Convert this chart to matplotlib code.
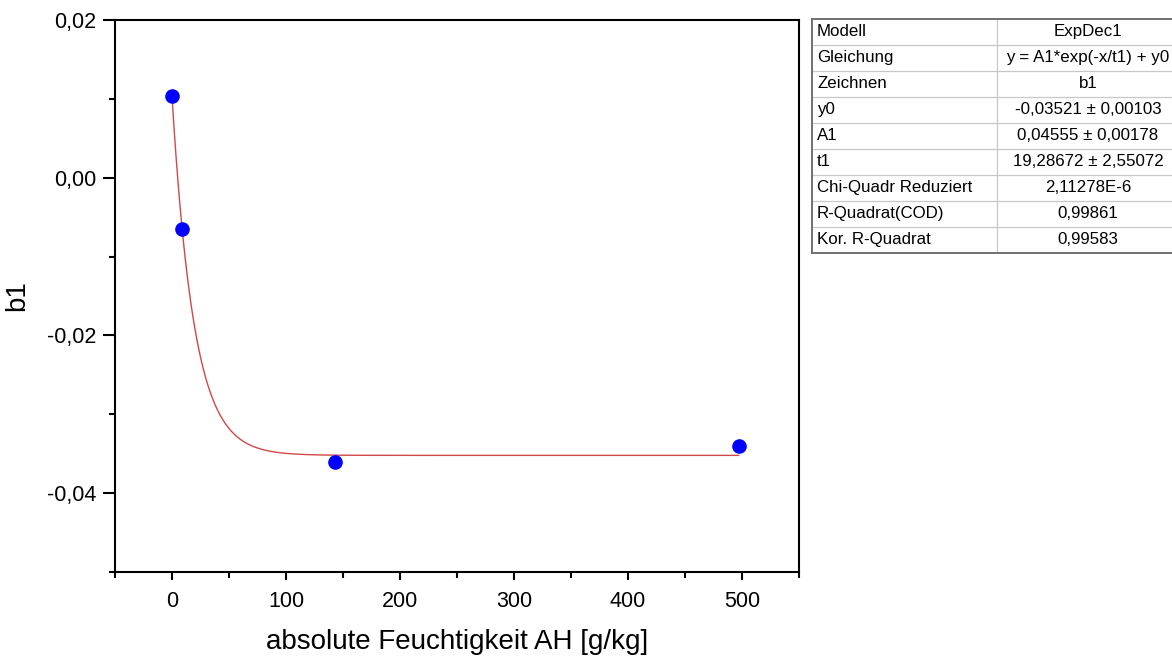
import numpy as np
import matplotlib
matplotlib.use("Agg")
import matplotlib.pyplot as plt
from matplotlib.ticker import MultipleLocator, FuncFormatter

plt.rcParams['font.family'] = ['Liberation Sans', 'DejaVu Sans']

# Measured data
humidity = [0.0, 8.5, 143.0, 497.0]
b1_values = [0.0103, -0.00655, -0.0361, -0.0340]

# ExpDec1 fit parameters
y0 = -0.03521
A1 = 0.04555
t1 = 19.28672

table_labels = ["Modell", "Gleichung", "Zeichnen", "y0", "A1", "t1",
                "Chi-Quadr Reduziert", "R-Quadrat(COD)", "Kor. R-Quadrat"]
table_values = ["ExpDec1", "y = A1*exp(-x/t1) + y0", "b1",
                "-0,03521 \u00b1 0,00103", "0,04555 \u00b1 0,00178",
                "19,28672 \u00b1 2,55072", "2,11278E-6", "0,99861", "0,99583"]

W, H = 1172, 660
fig = plt.figure(figsize=(W / 100, H / 100), dpi=100)

def px_rect(x0, y0_, x1, y1):
    return [x0 / W, 1 - y1 / H, (x1 - x0) / W, (y1 - y0_) / H]

ax = fig.add_axes(px_rect(115, 20, 799, 572))

xfit = np.linspace(min(humidity), max(humidity), 600)
yfit = A1 * np.exp(-xfit / t1) + y0
ax.plot(xfit, yfit, color='#d04848', lw=1.0, zorder=2)
ax.plot(humidity, b1_values, 'o', color='#0000ff', ms=9.5, mec='#0000ff', zorder=3)

ax.set_xlim(-50, 550)
ax.set_ylim(-0.05, 0.02)
ax.xaxis.set_major_locator(MultipleLocator(100))
ax.xaxis.set_minor_locator(MultipleLocator(50))
ax.yaxis.set_major_locator(MultipleLocator(0.02))
ax.yaxis.set_minor_locator(MultipleLocator(0.01))
ax.yaxis.set_major_formatter(FuncFormatter(lambda v, p: f"{v:.2f}".replace('.', ',').replace('-0,00', '0,00')))
ax.xaxis.set_major_formatter(FuncFormatter(lambda v, p: f"{v:.0f}"))

for s in ax.spines.values():
    s.set_linewidth(1.5)
ax.tick_params(which='major', direction='out', width=1.5, labelsize=15.5)
ax.tick_params(axis='x', which='major', length=6, pad=8)
ax.tick_params(axis='y', which='major', length=8.5, pad=5)
ax.tick_params(which='minor', direction='out', length=4, width=1.5)

ax.set_xlabel("absolute Feuchtigkeit AH [g/kg]", fontsize=20, labelpad=12)
ax.set_ylabel("b1", fontsize=20, labelpad=12)

# Fit results table
tx0, tx1, ty0, ty1 = 812, 1180, 19, 252.5
tax = fig.add_axes(px_rect(tx0, ty0, tx1, ty1))
tax.set_xlim(tx0, tx1)
tax.set_ylim(ty1, ty0)
tax.axis('off')
n = len(table_labels)
rh = (ty1 - ty0) / n
col_split = 997
for i in range(1, n):
    tax.plot([tx0, tx1], [ty0 + i * rh] * 2, color='#c8c8c8', lw=0.9, clip_on=False)
tax.plot([col_split, col_split], [ty0, ty1], color='#c8c8c8', lw=0.9, clip_on=False)
tax.plot([tx0, tx0], [ty0, ty1], color='#707070', lw=1.4, clip_on=False)
tax.plot([tx0, tx1], [ty0, ty0], color='#707070', lw=1.4, clip_on=False)
tax.plot([tx0, tx1], [ty1, ty1], color='#707070', lw=1.4, clip_on=False)
for i, (lab, val) in enumerate(zip(table_labels, table_values)):
    yc = ty0 + (i + 0.5) * rh
    tax.text(tx0 + 5, yc, lab, fontsize=12.2, ha='left', va='center')
    tax.text(1088, yc, val, fontsize=12.2, ha='center', va='center')

fig.savefig("out.png", dpi=100)
